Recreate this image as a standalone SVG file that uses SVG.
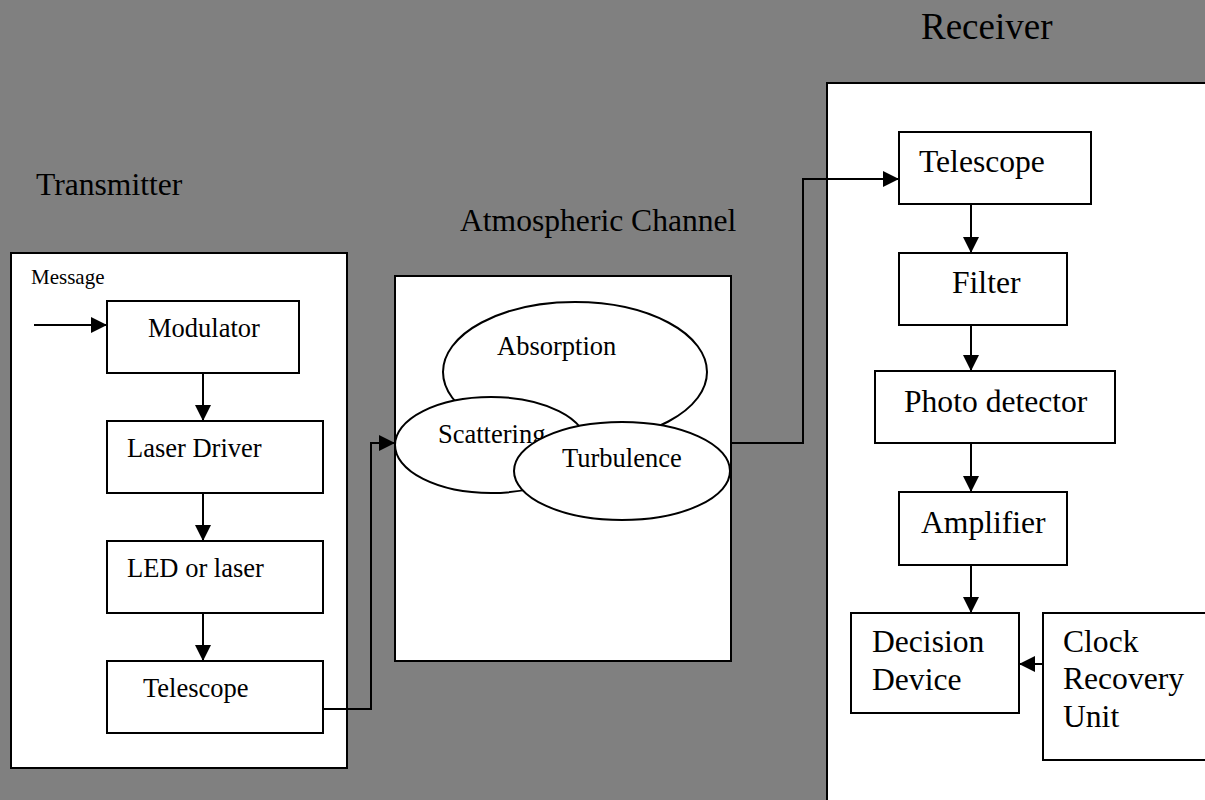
<svg xmlns="http://www.w3.org/2000/svg" width="1205" height="800" viewBox="0 0 1205 800">
<style>
.box{fill:#fff;stroke:#000;stroke-width:2}
.t{font-family:"Liberation Serif","Times New Roman",serif;fill:#000}
.s{font-size:21px}
.m{font-size:26.5px}
.l{font-size:31.6px}
.h{font-size:31.6px}
.c{fill:none;stroke:#000;stroke-width:2}
</style>
<defs>
<marker id="ah" markerUnits="userSpaceOnUse" markerWidth="16" markerHeight="16" viewBox="0 0 16 16" refX="16" refY="8" orient="auto">
<path d="M0,0 L16,8 L0,16 z" fill="#000"/>
</marker>
</defs>
<rect x="0" y="0" width="1205" height="800" fill="#808080"/>

<g id="titles">
<text class="t h" x="36" y="195">Transmitter</text>
<text class="t h" x="460" y="231">Atmospheric Channel</text>
<text class="t" x="921" y="39" font-size="37">Receiver</text>
</g>

<g id="transmitter">
<rect class="box" x="11" y="253" width="336" height="515"/>
<text class="t s" x="31" y="284">Message</text>
</g>
<g id="modulator">
<rect class="box" x="107" y="301" width="192" height="72"/>
<text class="t m" x="148" y="337">Modulator</text>
</g>
<g id="laser-driver">
<rect class="box" x="107" y="421" width="216" height="72"/>
<text class="t m" x="127" y="457">Laser Driver</text>
</g>
<g id="led-laser">
<rect class="box" x="107" y="541" width="216" height="72"/>
<text class="t m" x="127" y="577">LED or laser</text>
</g>
<g id="tx-telescope">
<rect class="box" x="107" y="661" width="216" height="72"/>
<text class="t m" x="143" y="697">Telescope</text>
</g>

<g id="atmospheric-channel">
<rect class="box" x="395" y="276" width="336" height="385"/>
</g>
<g id="absorption">
<ellipse class="box" cx="575" cy="372" rx="132" ry="70"/>
<text class="t m" x="497" y="355">Absorption</text>
</g>
<g id="scattering">
<ellipse class="box" cx="491" cy="445" rx="96" ry="48"/>
<text class="t m" x="438" y="443">Scattering</text>
</g>
<g id="turbulence">
<ellipse class="box" cx="622" cy="471" rx="108" ry="49"/>
<text class="t m" x="562" y="467">Turbulence</text>
</g>

<g id="receiver">
<rect class="box" x="827" y="83" width="400" height="740"/>
</g>
<g id="rx-telescope">
<rect class="box" x="899" y="132" width="192" height="72"/>
<text class="t l" x="919" y="172">Telescope</text>
</g>
<g id="filter">
<rect class="box" x="899" y="253" width="168" height="72"/>
<text class="t l" x="952" y="293">Filter</text>
</g>
<g id="photo-detector">
<rect class="box" x="875" y="371" width="240" height="72"/>
<text class="t l" x="904" y="412">Photo detector</text>
</g>
<g id="amplifier">
<rect class="box" x="899" y="492" width="168" height="73"/>
<text class="t l" x="921" y="533">Amplifier</text>
</g>
<g id="decision-device">
<rect class="box" x="851" y="613" width="168" height="100"/>
<text class="t l" x="872" y="652">Decision</text>
<text class="t l" x="872" y="690">Device</text>
</g>
<g id="clock-recovery">
<rect class="box" x="1043" y="613" width="180" height="147"/>
<text class="t l" x="1063" y="652">Clock</text>
<text class="t l" x="1063" y="689">Recovery</text>
<text class="t l" x="1063" y="727">Unit</text>
</g>

<g id="connectors">
<path class="c" d="M34,325 L107,325" marker-end="url(#ah)"/>
<path class="c" d="M203,373 L203,421" marker-end="url(#ah)"/>
<path class="c" d="M203,493 L203,541" marker-end="url(#ah)"/>
<path class="c" d="M203,613 L203,661" marker-end="url(#ah)"/>
<path class="c" d="M323,709 L371,709 L371,443 L395,443" marker-end="url(#ah)"/>
<path class="c" d="M731,443 L803,443 L803,179 L899,179" marker-end="url(#ah)"/>
<path class="c" d="M971,204 L971,253" marker-end="url(#ah)"/>
<path class="c" d="M971,325 L971,371" marker-end="url(#ah)"/>
<path class="c" d="M971,443 L971,492" marker-end="url(#ah)"/>
<path class="c" d="M971,565 L971,613" marker-end="url(#ah)"/>
<path class="c" d="M1043,664 L1019,664" marker-end="url(#ah)"/>
</g>
</svg>
